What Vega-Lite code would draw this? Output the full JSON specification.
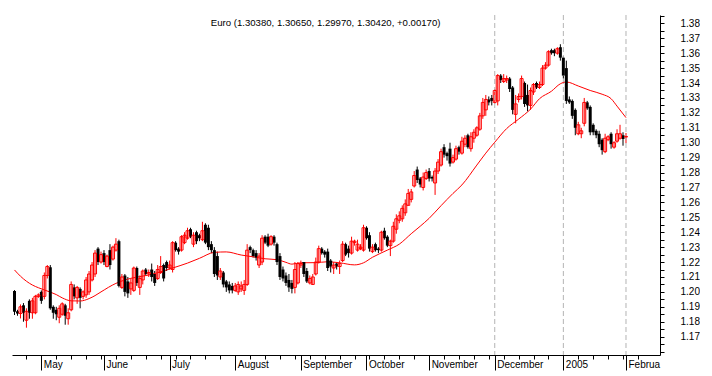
{
  "$schema": "https://vega.github.io/schema/vega-lite/v6.json",
  "width": 648,
  "height": 340,
  "padding": {"left": 12, "top": 10, "right": 0, "bottom": 0},
  "background": "white",
  "config": {
    "view": {"stroke": null},
    "font": "Liberation Sans",
    "axis": {"labelFont": "Liberation Sans", "labelFontSize": 10, "labelColor": "#000000", "tickColor": "#000000", "domainColor": "#000000", "grid": false}
  },
  "datasets": {
    "bars": [
      {"i":0,"o":1.2006,"h":1.2012,"l":1.1845,"c":1.1867},
      {"i":1,"o":1.1870,"h":1.1880,"l":1.1840,"c":1.1855},
      {"i":2,"o":1.1855,"h":1.1916,"l":1.1822,"c":1.1900},
      {"i":3,"o":1.1910,"h":1.1925,"l":1.1800,"c":1.1860},
      {"i":4,"o":1.1810,"h":1.1890,"l":1.1760,"c":1.1870},
      {"i":5,"o":1.1940,"h":1.1950,"l":1.1820,"c":1.1860},
      {"i":6,"o":1.1860,"h":1.1960,"l":1.1820,"c":1.1940},
      {"i":7,"o":1.1860,"h":1.1980,"l":1.1850,"c":1.1970},
      {"i":8,"o":1.1970,"h":1.1990,"l":1.1960,"c":1.1980},
      {"i":9,"o":1.2000,"h":1.2010,"l":1.1920,"c":1.1940},
      {"i":10,"o":1.1970,"h":1.2130,"l":1.1950,"c":1.2110},
      {"i":11,"o":1.2110,"h":1.2180,"l":1.2090,"c":1.2170},
      {"i":12,"o":1.2165,"h":1.2180,"l":1.1880,"c":1.1890},
      {"i":13,"o":1.1900,"h":1.1910,"l":1.1820,"c":1.1860},
      {"i":14,"o":1.1880,"h":1.1900,"l":1.1810,"c":1.1850},
      {"i":15,"o":1.1830,"h":1.1910,"l":1.1790,"c":1.1890},
      {"i":16,"o":1.1850,"h":1.1930,"l":1.1840,"c":1.1920},
      {"i":17,"o":1.1910,"h":1.1920,"l":1.1780,"c":1.1840},
      {"i":18,"o":1.1820,"h":1.1890,"l":1.1780,"c":1.1860},
      {"i":19,"o":1.1880,"h":1.2070,"l":1.1870,"c":1.2050},
      {"i":20,"o":1.2030,"h":1.2050,"l":1.1950,"c":1.1970},
      {"i":21,"o":1.1960,"h":1.2040,"l":1.1920,"c":1.2030},
      {"i":22,"o":1.2020,"h":1.2030,"l":1.1890,"c":1.1960},
      {"i":23,"o":1.1970,"h":1.2010,"l":1.1950,"c":1.2000},
      {"i":24,"o":1.1980,"h":1.2100,"l":1.1960,"c":1.2080},
      {"i":25,"o":1.2000,"h":1.2140,"l":1.1980,"c":1.2120},
      {"i":26,"o":1.2080,"h":1.2200,"l":1.2070,"c":1.2180},
      {"i":27,"o":1.2120,"h":1.2280,"l":1.2100,"c":1.2260},
      {"i":28,"o":1.2290,"h":1.2300,"l":1.2180,"c":1.2200},
      {"i":29,"o":1.2200,"h":1.2270,"l":1.2190,"c":1.2250},
      {"i":30,"o":1.2260,"h":1.2280,"l":1.2180,"c":1.2200},
      {"i":31,"o":1.2170,"h":1.2250,"l":1.2165,"c":1.2240},
      {"i":32,"o":1.2280,"h":1.2320,"l":1.2150,"c":1.2180},
      {"i":33,"o":1.2220,"h":1.2310,"l":1.2210,"c":1.2300},
      {"i":34,"o":1.2280,"h":1.2360,"l":1.2270,"c":1.2320},
      {"i":35,"o":1.2340,"h":1.2350,"l":1.2030,"c":1.2040},
      {"i":36,"o":1.2030,"h":1.2120,"l":1.2020,"c":1.2100},
      {"i":37,"o":1.2110,"h":1.2120,"l":1.1970,"c":1.2000},
      {"i":38,"o":1.2070,"h":1.2100,"l":1.1960,"c":1.1990},
      {"i":39,"o":1.2020,"h":1.2090,"l":1.1980,"c":1.2060},
      {"i":40,"o":1.2010,"h":1.2170,"l":1.2000,"c":1.2160},
      {"i":41,"o":1.2160,"h":1.2170,"l":1.2040,"c":1.2060},
      {"i":42,"o":1.2030,"h":1.2110,"l":1.1980,"c":1.2090},
      {"i":43,"o":1.2080,"h":1.2150,"l":1.2050,"c":1.2140},
      {"i":44,"o":1.2150,"h":1.2160,"l":1.2110,"c":1.2120},
      {"i":45,"o":1.2120,"h":1.2150,"l":1.2100,"c":1.2130},
      {"i":46,"o":1.2150,"h":1.2190,"l":1.2070,"c":1.2100},
      {"i":47,"o":1.2120,"h":1.2140,"l":1.2040,"c":1.2060},
      {"i":48,"o":1.2090,"h":1.2180,"l":1.2080,"c":1.2150},
      {"i":49,"o":1.2130,"h":1.2240,"l":1.2120,"c":1.2170},
      {"i":50,"o":1.2180,"h":1.2190,"l":1.2070,"c":1.2090},
      {"i":51,"o":1.2200,"h":1.2210,"l":1.2140,"c":1.2160},
      {"i":52,"o":1.2160,"h":1.2210,"l":1.2150,"c":1.2180},
      {"i":53,"o":1.2150,"h":1.2340,"l":1.2130,"c":1.2330},
      {"i":54,"o":1.2330,"h":1.2340,"l":1.2270,"c":1.2280},
      {"i":55,"o":1.2290,"h":1.2300,"l":1.2250,"c":1.2270},
      {"i":56,"o":1.2280,"h":1.2380,"l":1.2270,"c":1.2370},
      {"i":57,"o":1.2330,"h":1.2400,"l":1.2320,"c":1.2380},
      {"i":58,"o":1.2360,"h":1.2430,"l":1.2350,"c":1.2410},
      {"i":59,"o":1.2420,"h":1.2430,"l":1.2360,"c":1.2370},
      {"i":60,"o":1.2320,"h":1.2400,"l":1.2300,"c":1.2380},
      {"i":61,"o":1.2400,"h":1.2410,"l":1.2320,"c":1.2340},
      {"i":62,"o":1.2380,"h":1.2390,"l":1.2340,"c":1.2360},
      {"i":63,"o":1.2350,"h":1.2470,"l":1.2340,"c":1.2410},
      {"i":64,"o":1.2450,"h":1.2460,"l":1.2320,"c":1.2330},
      {"i":65,"o":1.2430,"h":1.2450,"l":1.2280,"c":1.2300},
      {"i":66,"o":1.2320,"h":1.2340,"l":1.2260,"c":1.2280},
      {"i":67,"o":1.2280,"h":1.2300,"l":1.2100,"c":1.2120},
      {"i":68,"o":1.2240,"h":1.2270,"l":1.2080,"c":1.2110},
      {"i":69,"o":1.2100,"h":1.2160,"l":1.2080,"c":1.2140},
      {"i":70,"o":1.2130,"h":1.2140,"l":1.2030,"c":1.2050},
      {"i":71,"o":1.2070,"h":1.2080,"l":1.2000,"c":1.2030},
      {"i":72,"o":1.2050,"h":1.2070,"l":1.1990,"c":1.2010},
      {"i":73,"o":1.2040,"h":1.2060,"l":1.1990,"c":1.2010},
      {"i":74,"o":1.2010,"h":1.2060,"l":1.2000,"c":1.2040},
      {"i":75,"o":1.2000,"h":1.2070,"l":1.1980,"c":1.2050},
      {"i":76,"o":1.2020,"h":1.2070,"l":1.2000,"c":1.2040},
      {"i":77,"o":1.2010,"h":1.2080,"l":1.1980,"c":1.2050},
      {"i":78,"o":1.2050,"h":1.2320,"l":1.2040,"c":1.2280},
      {"i":79,"o":1.2300,"h":1.2310,"l":1.2260,"c":1.2280},
      {"i":80,"o":1.2280,"h":1.2290,"l":1.2230,"c":1.2240},
      {"i":81,"o":1.2260,"h":1.2280,"l":1.2210,"c":1.2230},
      {"i":82,"o":1.2180,"h":1.2260,"l":1.2160,"c":1.2240},
      {"i":83,"o":1.2200,"h":1.2380,"l":1.2180,"c":1.2360},
      {"i":84,"o":1.2370,"h":1.2380,"l":1.2320,"c":1.2330},
      {"i":85,"o":1.2370,"h":1.2390,"l":1.2300,"c":1.2310},
      {"i":86,"o":1.2320,"h":1.2380,"l":1.2310,"c":1.2370},
      {"i":87,"o":1.2370,"h":1.2380,"l":1.2310,"c":1.2330},
      {"i":88,"o":1.2320,"h":1.2330,"l":1.2180,"c":1.2200},
      {"i":89,"o":1.2240,"h":1.2260,"l":1.2080,"c":1.2100},
      {"i":90,"o":1.2150,"h":1.2170,"l":1.2070,"c":1.2090},
      {"i":91,"o":1.2110,"h":1.2130,"l":1.2040,"c":1.2060},
      {"i":92,"o":1.2080,"h":1.2120,"l":1.2000,"c":1.2030},
      {"i":93,"o":1.2060,"h":1.2080,"l":1.1990,"c":1.2020},
      {"i":94,"o":1.2030,"h":1.2200,"l":1.1990,"c":1.2150},
      {"i":95,"o":1.2060,"h":1.2200,"l":1.2050,"c":1.2190},
      {"i":96,"o":1.2180,"h":1.2210,"l":1.2160,"c":1.2190},
      {"i":97,"o":1.2200,"h":1.2200,"l":1.2100,"c":1.2120},
      {"i":98,"o":1.2140,"h":1.2160,"l":1.2060,"c":1.2070},
      {"i":99,"o":1.2060,"h":1.2110,"l":1.2050,"c":1.2090},
      {"i":100,"o":1.2050,"h":1.2120,"l":1.2046,"c":1.2100},
      {"i":101,"o":1.2120,"h":1.2230,"l":1.2110,"c":1.2200},
      {"i":102,"o":1.2200,"h":1.2310,"l":1.2190,"c":1.2290},
      {"i":103,"o":1.2290,"h":1.2300,"l":1.2250,"c":1.2260},
      {"i":104,"o":1.2270,"h":1.2280,"l":1.2230,"c":1.2250},
      {"i":105,"o":1.2270,"h":1.2290,"l":1.2140,"c":1.2160},
      {"i":106,"o":1.2210,"h":1.2220,"l":1.2130,"c":1.2170},
      {"i":107,"o":1.2160,"h":1.2200,"l":1.2120,"c":1.2180},
      {"i":108,"o":1.2190,"h":1.2200,"l":1.2150,"c":1.2170},
      {"i":109,"o":1.2170,"h":1.2210,"l":1.2120,"c":1.2190},
      {"i":110,"o":1.2210,"h":1.2340,"l":1.2200,"c":1.2320},
      {"i":111,"o":1.2320,"h":1.2330,"l":1.2240,"c":1.2250},
      {"i":112,"o":1.2290,"h":1.2310,"l":1.2230,"c":1.2260},
      {"i":113,"o":1.2260,"h":1.2370,"l":1.2250,"c":1.2340},
      {"i":114,"o":1.2330,"h":1.2350,"l":1.2310,"c":1.2340},
      {"i":115,"o":1.2280,"h":1.2350,"l":1.2270,"c":1.2320},
      {"i":116,"o":1.2290,"h":1.2320,"l":1.2280,"c":1.2300},
      {"i":117,"o":1.2280,"h":1.2450,"l":1.2270,"c":1.2430},
      {"i":118,"o":1.2430,"h":1.2440,"l":1.2350,"c":1.2360},
      {"i":119,"o":1.2380,"h":1.2400,"l":1.2270,"c":1.2290},
      {"i":120,"o":1.2270,"h":1.2320,"l":1.2260,"c":1.2300},
      {"i":121,"o":1.2320,"h":1.2330,"l":1.2270,"c":1.2280},
      {"i":122,"o":1.2290,"h":1.2300,"l":1.2260,"c":1.2280},
      {"i":123,"o":1.2280,"h":1.2410,"l":1.2270,"c":1.2400},
      {"i":124,"o":1.2410,"h":1.2430,"l":1.2350,"c":1.2360},
      {"i":125,"o":1.2370,"h":1.2380,"l":1.2300,"c":1.2310},
      {"i":126,"o":1.2310,"h":1.2350,"l":1.2240,"c":1.2340},
      {"i":127,"o":1.2340,"h":1.2470,"l":1.2330,"c":1.2440},
      {"i":128,"o":1.2420,"h":1.2520,"l":1.2390,"c":1.2490},
      {"i":129,"o":1.2480,"h":1.2540,"l":1.2460,"c":1.2510},
      {"i":130,"o":1.2490,"h":1.2580,"l":1.2470,"c":1.2560},
      {"i":131,"o":1.2530,"h":1.2620,"l":1.2510,"c":1.2590},
      {"i":132,"o":1.2580,"h":1.2690,"l":1.2580,"c":1.2660},
      {"i":133,"o":1.2620,"h":1.2690,"l":1.2600,"c":1.2670},
      {"i":134,"o":1.2710,"h":1.2810,"l":1.2700,"c":1.2780},
      {"i":135,"o":1.2820,"h":1.2840,"l":1.2730,"c":1.2750},
      {"i":136,"o":1.2760,"h":1.2770,"l":1.2700,"c":1.2720},
      {"i":137,"o":1.2700,"h":1.2800,"l":1.2680,"c":1.2770},
      {"i":138,"o":1.2760,"h":1.2820,"l":1.2750,"c":1.2800},
      {"i":139,"o":1.2810,"h":1.2830,"l":1.2740,"c":1.2760},
      {"i":140,"o":1.2770,"h":1.2780,"l":1.2740,"c":1.2760},
      {"i":141,"o":1.2730,"h":1.2830,"l":1.2650,"c":1.2810},
      {"i":142,"o":1.2810,"h":1.2890,"l":1.2790,"c":1.2870},
      {"i":143,"o":1.2850,"h":1.2960,"l":1.2840,"c":1.2940},
      {"i":144,"o":1.2970,"h":1.2990,"l":1.2900,"c":1.2920},
      {"i":145,"o":1.2930,"h":1.2940,"l":1.2880,"c":1.2910},
      {"i":146,"o":1.2960,"h":1.3000,"l":1.2840,"c":1.2860},
      {"i":147,"o":1.2870,"h":1.2920,"l":1.2860,"c":1.2900},
      {"i":148,"o":1.2890,"h":1.2980,"l":1.2880,"c":1.2960},
      {"i":149,"o":1.2970,"h":1.2980,"l":1.2920,"c":1.2940},
      {"i":150,"o":1.2930,"h":1.3040,"l":1.2920,"c":1.3010},
      {"i":151,"o":1.2990,"h":1.3050,"l":1.2970,"c":1.3030},
      {"i":152,"o":1.3050,"h":1.3060,"l":1.2960,"c":1.2970},
      {"i":153,"o":1.2960,"h":1.3070,"l":1.2940,"c":1.3040},
      {"i":154,"o":1.3030,"h":1.3090,"l":1.3000,"c":1.3070},
      {"i":155,"o":1.3050,"h":1.3110,"l":1.3040,"c":1.3100},
      {"i":156,"o":1.3090,"h":1.3200,"l":1.3080,"c":1.3180},
      {"i":157,"o":1.3180,"h":1.3300,"l":1.3160,"c":1.3270},
      {"i":158,"o":1.3220,"h":1.3320,"l":1.3180,"c":1.3290},
      {"i":159,"o":1.3290,"h":1.3310,"l":1.3250,"c":1.3270},
      {"i":160,"o":1.3300,"h":1.3320,"l":1.3250,"c":1.3280},
      {"i":161,"o":1.3270,"h":1.3360,"l":1.3260,"c":1.3350},
      {"i":162,"o":1.3280,"h":1.3460,"l":1.3250,"c":1.3450},
      {"i":163,"o":1.3450,"h":1.3460,"l":1.3400,"c":1.3420},
      {"i":164,"o":1.3410,"h":1.3460,"l":1.3400,"c":1.3430},
      {"i":165,"o":1.3420,"h":1.3450,"l":1.3400,"c":1.3430},
      {"i":166,"o":1.3430,"h":1.3440,"l":1.3340,"c":1.3360},
      {"i":167,"o":1.3370,"h":1.3380,"l":1.3190,"c":1.3220},
      {"i":168,"o":1.3190,"h":1.3320,"l":1.3130,"c":1.3260},
      {"i":169,"o":1.3290,"h":1.3330,"l":1.3270,"c":1.3310},
      {"i":170,"o":1.3310,"h":1.3450,"l":1.3290,"c":1.3430},
      {"i":171,"o":1.3400,"h":1.3410,"l":1.3240,"c":1.3260},
      {"i":172,"o":1.3320,"h":1.3390,"l":1.3210,"c":1.3250},
      {"i":173,"o":1.3250,"h":1.3370,"l":1.3220,"c":1.3350},
      {"i":174,"o":1.3340,"h":1.3400,"l":1.3320,"c":1.3390},
      {"i":175,"o":1.3400,"h":1.3410,"l":1.3360,"c":1.3370},
      {"i":176,"o":1.3370,"h":1.3410,"l":1.3360,"c":1.3390},
      {"i":177,"o":1.3390,"h":1.3520,"l":1.3380,"c":1.3500},
      {"i":178,"o":1.3500,"h":1.3540,"l":1.3490,"c":1.3520},
      {"i":179,"o":1.3520,"h":1.3620,"l":1.3510,"c":1.3610},
      {"i":180,"o":1.3620,"h":1.3630,"l":1.3590,"c":1.3600},
      {"i":181,"o":1.3620,"h":1.3630,"l":1.3580,"c":1.3600},
      {"i":182,"o":1.3600,"h":1.3640,"l":1.3590,"c":1.3630},
      {"i":183,"o":1.3640,"h":1.3660,"l":1.3550,"c":1.3570},
      {"i":184,"o":1.3570,"h":1.3580,"l":1.3430,"c":1.3450},
      {"i":185,"o":1.3500,"h":1.3550,"l":1.3260,"c":1.3280},
      {"i":186,"o":1.3290,"h":1.3310,"l":1.3260,"c":1.3270},
      {"i":187,"o":1.3280,"h":1.3290,"l":1.3160,"c":1.3180},
      {"i":188,"o":1.3220,"h":1.3230,"l":1.3050,"c":1.3100},
      {"i":189,"o":1.3060,"h":1.3140,"l":1.3050,"c":1.3120},
      {"i":190,"o":1.3060,"h":1.3100,"l":1.3030,"c":1.3080},
      {"i":191,"o":1.3130,"h":1.3300,"l":1.3110,"c":1.3270},
      {"i":192,"o":1.3270,"h":1.3280,"l":1.3220,"c":1.3230},
      {"i":193,"o":1.3240,"h":1.3250,"l":1.3050,"c":1.3070},
      {"i":194,"o":1.3120,"h":1.3130,"l":1.3050,"c":1.3070},
      {"i":195,"o":1.3080,"h":1.3090,"l":1.3030,"c":1.3050},
      {"i":196,"o":1.3060,"h":1.3080,"l":1.2970,"c":1.2990},
      {"i":197,"o":1.3020,"h":1.3030,"l":1.2920,"c":1.2950},
      {"i":198,"o":1.2940,"h":1.3060,"l":1.2930,"c":1.3030},
      {"i":199,"o":1.3020,"h":1.3050,"l":1.3010,"c":1.3040},
      {"i":200,"o":1.3060,"h":1.3070,"l":1.2960,"c":1.2990},
      {"i":201,"o":1.2970,"h":1.3010,"l":1.2960,"c":1.3000},
      {"i":202,"o":1.3010,"h":1.3090,"l":1.3000,"c":1.3060},
      {"i":203,"o":1.3030,"h":1.3120,"l":1.3020,"c":1.3060},
      {"i":204,"o":1.3050,"h":1.3070,"l":1.2980,"c":1.3025},
      {"i":205,"o":1.3038,"h":1.3065,"l":1.2997,"c":1.3042}
    ],
    "ma": [
      {"i":0,"v":1.2147},{"i":2,"v":1.2105},{"i":6,"v":1.2046},{"i":8,"v":1.2028},{"i":10,"v":1.2013},
      {"i":14,"v":1.1982},{"i":16,"v":1.1960},{"i":19,"v":1.1940},{"i":22,"v":1.1939},{"i":25,"v":1.1955},
      {"i":27,"v":1.1975},{"i":29,"v":1.2000},{"i":34,"v":1.2057},{"i":36,"v":1.2073},{"i":39,"v":1.2091},
      {"i":45,"v":1.2113},{"i":51,"v":1.2147},{"i":53,"v":1.2160},{"i":58,"v":1.2193},{"i":62,"v":1.2225},
      {"i":67,"v":1.2265},{"i":71,"v":1.2268},{"i":76,"v":1.2247},{"i":80,"v":1.2235},{"i":84,"v":1.2222},
      {"i":88,"v":1.2216},{"i":91,"v":1.2198},{"i":93,"v":1.2186},{"i":96,"v":1.2195},{"i":101,"v":1.2196},
      {"i":105,"v":1.2202},{"i":109,"v":1.2195},{"i":114,"v":1.2181},{"i":117,"v":1.2195},{"i":120,"v":1.2232},
      {"i":125,"v":1.2280},{"i":129,"v":1.2320},{"i":133,"v":1.2390},{"i":136,"v":1.2440},{"i":139,"v":1.2493},
      {"i":143,"v":1.2578},{"i":147,"v":1.2660},{"i":150,"v":1.2717},{"i":155,"v":1.2850},{"i":158,"v":1.2930},
      {"i":161,"v":1.3003},{"i":165,"v":1.3095},{"i":169,"v":1.3158},{"i":173,"v":1.3225},{"i":176,"v":1.3295},
      {"i":180,"v":1.3345},{"i":183,"v":1.3395},{"i":185,"v":1.3407},{"i":189,"v":1.3380},{"i":193,"v":1.3350},
      {"i":197,"v":1.3325},{"i":200,"v":1.3295},{"i":202,"v":1.3245},{"i":205,"v":1.3168}
    ],
    "grid": [{"i":161},{"i":184},{"i":205}],
    "title": [{"t":"Euro (1.30380, 1.30650, 1.29970, 1.30420, +0.00170)"}]
  },
  "resolve": {"axis": {"x": "independent", "y": "independent"}},
  "layer": [
    {
      "data": {"name": "bars"},
      "mark": {"type": "rule", "strokeWidth": 1},
      "encoding": {
        "x": {"field": "i", "type": "quantitative",
          "scale": {"domain": [-0.84, 216.4], "nice": false, "zero": false, "padding": 0},
          "axis": {"orient": "bottom", "values": [9,30,52,74,96,118,139,161,184,205],
            "labelExpr": "datum.value==9?'May':datum.value==30?'June':datum.value==52?'July':datum.value==74?'August':datum.value==96?'September':datum.value==118?'October':datum.value==139?'November':datum.value==161?'December':datum.value==184?'2005':'Februa'",
            "title": null, "tickSize": 15, "labelPadding": -10.5, "labelAlign": "left", "labelBaseline": "top", "labelOffset": 2,
            "labelOverlap": false, "labelFlush": false, "labelBound": false, "domain": true, "ticks": true}},
        "y": {"field": "l", "type": "quantitative",
          "scale": {"domain": [1.1577, 1.3856], "nice": false, "zero": false, "padding": 0},
          "axis": {"orient": "right", "title": null,
            "values": [1.16,1.165,1.17,1.175,1.18,1.185,1.19,1.195,1.2,1.205,1.21,1.215,1.22,1.225,1.23,1.235,1.24,1.245,1.25,1.255,1.26,1.265,1.27,1.275,1.28,1.285,1.29,1.295,1.3,1.305,1.31,1.315,1.32,1.325,1.33,1.335,1.34,1.345,1.35,1.355,1.36,1.365,1.37,1.375,1.38,1.385],
            "labelExpr": "(round(datum.value*1000) % 10 == 0 && round(datum.value*1000) > 1165) ? format(datum.value, '.2f') : ''",
            "tickSize": 4, "labelPadding": 16, "labelAlign": "left", "labelBaseline": "middle", "labelOverlap": false, "labelFlush": false, "labelBound": false, "domain": true, "ticks": true}},
        "y2": {"field": "h"},
        "color": {"condition": {"test": "datum.c >= datum.o", "value": "#ff0000"}, "value": "#000000"}
      }
    },
    {
      "data": {"name": "grid"},
      "mark": {"type": "rule", "color": "#b4b4b4", "strokeWidth": 1, "strokeDash": [5, 3]},
      "encoding": {
        "x": {"field": "i", "type": "quantitative",
          "axis": {"orient": "bottom", "title": null, "values": [4,9,14,19,24,29,34,39,44,49,54,59,64,69,74,79,84,89,94,99,104,109,114,119,124,129,134,139,144,149,154,159,164,169,174,179,184,189,194,199,204,209],
            "labels": false, "domain": false, "tickSize": 4}}
      }
    },
    {
      "data": {"name": "ma"},
      "mark": {"type": "line", "color": "#ff0000", "strokeWidth": 1, "interpolate": "monotone"},
      "encoding": {
        "x": {"field": "i", "type": "quantitative", "axis": null},
        "y": {"field": "v", "type": "quantitative", "axis": null}
      }
    },
    {
      "data": {"name": "bars"},
      "transform": [{"filter": "datum.c < datum.o"}],
      "mark": {"type": "bar", "size": 3, "color": "#000000"},
      "encoding": {
        "x": {"field": "i", "type": "quantitative", "axis": null},
        "y": {"field": "o", "type": "quantitative", "axis": null},
        "y2": {"field": "c"}
      }
    },
    {
      "data": {"name": "bars"},
      "transform": [{"filter": "datum.c >= datum.o"}],
      "mark": {"type": "bar", "size": 3, "filled": false, "color": "#ff0000", "strokeWidth": 1},
      "encoding": {
        "x": {"field": "i", "type": "quantitative", "axis": null},
        "y": {"field": "o", "type": "quantitative", "axis": null},
        "y2": {"field": "c"}
      }
    },
    {
      "data": {"name": "title"},
      "mark": {"type": "text", "font": "Liberation Sans", "fontSize": 9.6, "color": "#000000", "align": "center", "baseline": "middle"},
      "encoding": {
        "x": {"datum": 104.3, "type": "quantitative", "axis": null},
        "y": {"datum": 1.38, "type": "quantitative", "axis": null},
        "text": {"field": "t"}
      }
    }
  ]
}
